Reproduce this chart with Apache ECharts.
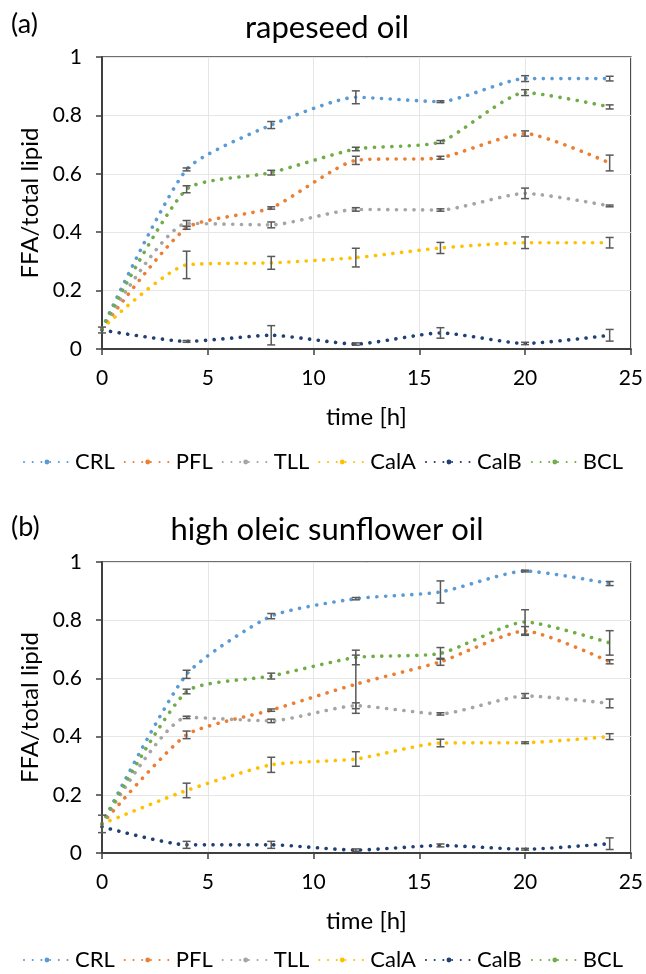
<!DOCTYPE html>
<html>
<head>
<meta charset="utf-8">
<script src="https://cdn.jsdelivr.net/npm/echarts@6/dist/echarts.min.js"></script>
<style>
  html, body { margin: 0; padding: 0; background: #fff; }
  #chart { width: 646px; height: 974px; }
</style>
</head>
<body>
<div id="chart"></div>
<script>
// sampling times [h]
const times = [0, 4, 8, 12, 16, 20, 24];
const enzymes = ['CRL', 'PFL', 'TLL', 'CalA', 'CalB', 'BCL'];
const colors = ['#5B9BD5', '#ED7D31', '#A5A5A5', '#FFC000', '#203F73', '#70AD47'];

// (a) rapeseed oil - FFA/total lipid
const crlRape  = [0.07, 0.615, 0.767, 0.862, 0.847, 0.926, 0.926];
const pflRape  = [0.07, 0.415, 0.483, 0.646, 0.655, 0.738, 0.637];
const tllRape  = [0.07, 0.430, 0.425, 0.478, 0.476, 0.533, 0.490];
const calARape = [0.07, 0.288, 0.295, 0.313, 0.346, 0.364, 0.364];
const calBRape = [0.065, 0.026, 0.047, 0.017, 0.055, 0.019, 0.047];
const bclRape  = [0.07, 0.547, 0.604, 0.685, 0.709, 0.878, 0.829];
// error bars (+/-)
const crlRapeErr  = [0, 0.005, 0.012, 0.022, 0.003, 0.010, 0.008];
const pflRapeErr  = [0, 0.005, 0.004, 0.014, 0.005, 0.009, 0.027];
const tllRapeErr  = [0, 0.010, 0.010, 0.006, 0.004, 0.018, 0.003];
const calARapeErr = [0, 0.047, 0.022, 0.032, 0.019, 0.020, 0.018];
const calBRapeErr = [0.01, 0.003, 0.033, 0.004, 0.018, 0.004, 0.020];
const bclRapeErr  = [0, 0.012, 0.008, 0.006, 0.005, 0.010, 0.007];

// (b) high oleic sunflower oil
const crlSun  = [0.10, 0.614, 0.814, 0.874, 0.897, 0.969, 0.926];
const pflSun  = [0.10, 0.406, 0.491, 0.580, 0.657, 0.763, 0.657];
const tllSun  = [0.10, 0.466, 0.454, 0.506, 0.478, 0.540, 0.514];
const calASun = [0.10, 0.215, 0.303, 0.323, 0.378, 0.379, 0.400];
const calBSun = [0.09, 0.028, 0.028, 0.010, 0.026, 0.013, 0.032];
const bclSun  = [0.10, 0.555, 0.608, 0.672, 0.686, 0.794, 0.722];
const crlSunErr  = [0, 0.014, 0.009, 0.004, 0.038, 0.003, 0.007];
const pflSunErr  = [0, 0.013, 0.004, 0.100, 0.012, 0.015, 0.007];
const tllSunErr  = [0.03, 0.004, 0.006, 0.010, 0.004, 0.008, 0.015];
const calASunErr = [0, 0.025, 0.026, 0.025, 0.013, 0.003, 0.010];
const calBSunErr = [0, 0.012, 0.012, 0.004, 0.005, 0.003, 0.020];
const bclSunErr  = [0, 0.008, 0.010, 0.025, 0.020, 0.042, 0.042];

const rapeVals = [crlRape, pflRape, tllRape, calARape, calBRape, bclRape];
const rapeErrs = [crlRapeErr, pflRapeErr, tllRapeErr, calARapeErr, calBRapeErr, bclRapeErr];
const sunVals = [crlSun, pflSun, tllSun, calASun, calBSun, bclSun];
const sunErrs = [crlSunErr, pflSunErr, tllSunErr, calASunErr, calBSunErr, bclSunErr];

const FONT = 'Lato';
const chart = echarts.init(document.getElementById('chart'));

function errRender(params, api) {
  const x = api.value(0);
  const lo = api.coord([x, api.value(1)]);
  const hi = api.coord([x, api.value(2)]);
  const w = 4;
  const st = { stroke: '#595959', lineWidth: 1.5 };
  return {
    type: 'group',
    children: [
      { type: 'line', shape: { x1: lo[0], y1: lo[1], x2: hi[0], y2: hi[1] }, style: st },
      { type: 'line', shape: { x1: lo[0] - w, y1: lo[1], x2: lo[0] + w, y2: lo[1] }, style: st },
      { type: 'line', shape: { x1: hi[0] - w, y1: hi[1], x2: hi[0] + w, y2: hi[1] }, style: st }
    ]
  };
}

function buildSeries(vals, errs, idx) {
  const out = [];
  vals.forEach((v, i) => {
    out.push({
      name: enzymes[i],
      type: 'line',
      xAxisIndex: idx,
      yAxisIndex: idx,
      data: times.map((t, k) => [t, v[k]]),
      smooth: 0.2,
      showSymbol: false,
      symbol: 'none',
      color: colors[i],
      lineStyle: { width: 3.6, type: [0.1, 8.6], cap: 'round', color: colors[i] },
      z: 2 + i * 0.01,
      animation: false
    });
  });
  const bars = [];
  vals.forEach((v, i) => {
    times.forEach((t, k) => {
      const e = errs[i][k];
      if (e > 0) bars.push([t, v[k] - e, v[k] + e]);
    });
  });
  out.push({
    name: 'err' + idx,
    type: 'custom',
    xAxisIndex: idx,
    yAxisIndex: idx,
    renderItem: errRender,
    encode: { x: 0, y: [1, 2] },
    data: bars,
    z: 5,
    animation: false
  });
  return out;
}

function xAxisCfg(idx) {
  return {
    type: 'value', gridIndex: idx, min: 0, max: 25, interval: 5,
    name: 'time [h]', nameLocation: 'middle', nameGap: 56,
    nameTextStyle: { fontFamily: FONT, fontSize: 24, color: '#000' },
    axisLine: { lineStyle: { color: '#404040', width: 2 } },
    axisTick: { show: true, length: 6, lineStyle: { color: '#404040', width: 1.5 } },
    axisLabel: { fontFamily: FONT, fontSize: 21, color: '#000', margin: 19 },
    splitLine: { show: true, lineStyle: { color: '#E6E6E6', width: 1 } }
  };
}

function yAxisCfg(idx) {
  return {
    type: 'value', gridIndex: idx, min: 0, max: 1, interval: 0.2,
    name: 'FFA/total lipid', nameLocation: 'middle', nameGap: 57,
    nameTextStyle: { fontFamily: FONT, fontSize: 24, color: '#000' },
    axisLine: { show: true, lineStyle: { color: '#404040', width: 2 } },
    axisTick: { show: true, length: 6, lineStyle: { color: '#404040', width: 1.5 } },
    axisLabel: { fontFamily: FONT, fontSize: 21, color: '#000', margin: 20 },
    splitLine: { show: true, lineStyle: { color: '#E6E6E6', width: 1 } }
  };
}

function legendCfg(top) {
  return {
    top: top, left: 'center',
    itemWidth: 46, itemHeight: 6, itemGap: 9,
    textStyle: { fontFamily: FONT, fontSize: 22, color: '#000' },
    data: enzymes,
    selectedMode: false
  };
}

function textEl(txt, x, y, size, align) {
  return {
    type: 'text', x: x, y: y,
    style: { text: txt, fontFamily: FONT, fontSize: size, fill: '#000', textAlign: align, textVerticalAlign: 'middle' }
  };
}

chart.setOption({
  animation: false,
  grid: [
    { left: 102, top: 57, width: 530, height: 292, show: true, borderColor: '#404040', borderWidth: 1.5, containLabel: false },
    { left: 102, top: 562, width: 530, height: 291, show: true, borderColor: '#404040', borderWidth: 1.5, containLabel: false }
  ],
  xAxis: [xAxisCfg(0), xAxisCfg(1)],
  yAxis: [yAxisCfg(0), yAxisCfg(1)],
  legend: [legendCfg(446), legendCfg(944)],
  graphic: [
    textEl('(a)', 11, 24, 27, 'left'),
    textEl('rapeseed oil', 327, 28, 31, 'center'),
    textEl('(b)', 11, 527, 27, 'left'),
    textEl('high oleic sunflower oil', 327, 530, 31, 'center')
  ],
  series: buildSeries(rapeVals, rapeErrs, 0).concat(buildSeries(sunVals, sunErrs, 1))
});
</script>
</body>
</html>
